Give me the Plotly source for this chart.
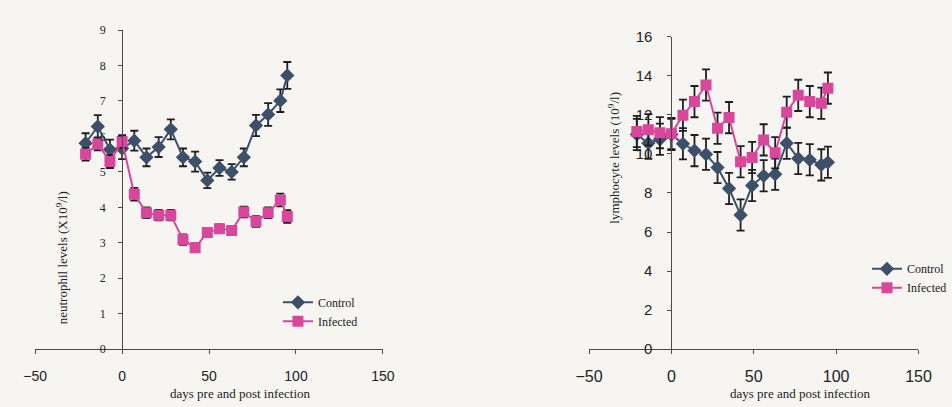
import plotly.graph_objects as go

# Sampling days relative to infection
days = [-21, -14, -7, 0, 7, 14, 21, 28, 35, 42, 49, 56, 63, 70, 77, 84, 91, 95]

# Neutrophil levels (x10^9/l)
neut_control = [5.81, 6.28, 5.63, 5.66, 5.88, 5.41, 5.70, 6.20, 5.41, 5.29, 4.76, 5.11, 5.00, 5.41, 6.31, 6.62, 7.01, 7.72]
neut_control_err = [0.28, 0.32, 0.28, 0.30, 0.28, 0.25, 0.28, 0.28, 0.25, 0.28, 0.22, 0.22, 0.22, 0.25, 0.30, 0.32, 0.32, 0.38]
neut_infected = [5.50, 5.79, 5.29, 5.86, 4.37, 3.85, 3.78, 3.78, 3.09, 2.86, 3.29, 3.40, 3.35, 3.87, 3.60, 3.85, 4.21, 3.74]
neut_infected_err = [0.18, 0.18, 0.18, 0.18, 0.18, 0.15, 0.15, 0.15, 0.15, 0.12, 0.12, 0.12, 0.12, 0.15, 0.15, 0.15, 0.18, 0.18]

# Lymphocyte levels (10^9/l)
lymph_control = [11.00, 10.55, 10.75, 11.00, 10.52, 10.17, 9.98, 9.30, 8.23, 6.87, 8.38, 8.88, 8.96, 10.55, 9.77, 9.70, 9.44, 9.57]
lymph_control_err = [0.8, 0.8, 0.8, 0.8, 0.8, 0.8, 0.8, 0.8, 0.8, 0.8, 0.8, 0.8, 0.8, 0.8, 0.8, 0.8, 0.8, 0.8]
lymph_infected = [11.15, 11.24, 11.09, 11.04, 11.98, 12.68, 13.53, 11.32, 11.86, 9.60, 9.82, 10.72, 10.06, 12.14, 13.00, 12.68, 12.60, 13.37]
lymph_infected_err = [0.8, 0.8, 0.8, 0.8, 0.8, 0.8, 0.8, 0.8, 0.8, 0.8, 0.8, 0.8, 0.8, 0.8, 0.8, 0.8, 0.8, 0.8]

x_ticks = [-50, 0, 50, 100, 150]

CONTROL = "#3e5069"
INFECTED = "#d8479b"
ERR = "#1e1e1e"
BG = "#f7f5f2"
AXIS = "#4a4a4a"
W, H = 952, 407


def series(x, y, err, name, color, symbol, size, xa, ya, legend):
    return go.Scatter(
        x=x, y=y, name=name, mode="lines+markers",
        xaxis=xa, yaxis=ya, legend=legend,
        line=dict(color=color, width=2),
        marker=dict(symbol=symbol, size=size, color=color),
        error_y=dict(type="data", array=err, color=ERR, thickness=1.8, width=4),
    )


fig = go.Figure()
fig.add_trace(series(days, neut_control, neut_control_err, "Control", CONTROL, "diamond", 11, "x", "y", "legend"))
fig.add_trace(series(days, neut_infected, neut_infected_err, "Infected", INFECTED, "square", 11, "x", "y", "legend"))
fig.add_trace(series(days, lymph_control, lymph_control_err, "Control", CONTROL, "diamond", 11, "x2", "y2", "legend2"))
fig.add_trace(series(days, lymph_infected, lymph_infected_err, "Infected", INFECTED, "square", 11, "x2", "y2", "legend2"))

# Panel geometry in pixels
L_x0, L_x1 = 22, 383
L_y0, L_y1 = 355, 22
R_x0, R_x1 = 597, 939
R_y0, R_y1 = 355, 29


def px_x(p):
    return p / W


def px_y(p):
    return 1 - p / H


left_zero = L_x0 + (L_x1 - L_x0) * 50 / 200
right_zero = R_x0 + (R_x1 - R_x0) * 50 / 200

common_x = dict(range=[-50, 150], tickvals=x_ticks, showgrid=False, zeroline=False,
                showline=True, linecolor=AXIS, linewidth=1, ticks="outside",
                ticklen=4, tickcolor=AXIS)
common_y = dict(showgrid=False, zeroline=False, showline=True, linecolor=AXIS,
                linewidth=1, ticks="outside", ticklen=4, tickcolor=AXIS)

fig.update_layout(
    width=W, height=H,
    margin=dict(l=0, r=0, t=0, b=0),
    paper_bgcolor=BG, plot_bgcolor="rgba(0,0,0,0)",
    xaxis=dict(common_x, domain=[px_x(L_x0), px_x(L_x1)], anchor="y",
               tickfont=dict(family="Liberation Sans, Arial", size=14, color="#222"),
               ticklabelstandoff=10),
    yaxis=dict(common_y, domain=[px_y(L_y0), px_y(L_y1)], range=[0, 9], dtick=1,
               anchor="free", position=px_x(left_zero),
               tickfont=dict(family="Liberation Serif, Times New Roman", size=12, color="#222"),
               ticklabelstandoff=10),
    xaxis2=dict(common_x, domain=[px_x(R_x0), px_x(R_x1)], anchor="y2",
                tickfont=dict(family="Liberation Sans, Arial", size=16, color="#222"),
                ticklabelstandoff=9),
    yaxis2=dict(common_y, domain=[px_y(R_y0), px_y(R_y1)], range=[0, 16], dtick=2,
                anchor="free", position=px_x(right_zero),
                tickfont=dict(family="Liberation Sans, Arial", size=15, color="#222"),
                ticklabelstandoff=12),
    legend=dict(x=px_x(274), y=px_y(291), xanchor="left", yanchor="top",
                bgcolor="rgba(0,0,0,0)", tracegroupgap=0, itemwidth=30,
                font=dict(family="Liberation Serif, Times New Roman", size=12, color="#222")),
    legend2=dict(x=px_x(886), y=px_y(256), xanchor="left", yanchor="top",
                 bgcolor="rgba(0,0,0,0)", tracegroupgap=0, itemwidth=30,
                 font=dict(family="Liberation Serif, Times New Roman", size=12, color="#222")),
    showlegend=True,
)

title_font = dict(family="Liberation Serif, Times New Roman", size=13, color="#222")
for text, x, y, angle in [
    ("neutrophil levels (X10<sup>9</sup>/l)", 50, 260, -90),
    ("days pre and post infection", 235, 401, 0),
    ("lymphocyte levels (10<sup>9</sup>/l)", 622, 155, -90),
    ("days pre and post infection", 816, 401, 0),
]:
    fig.add_annotation(text=text, x=px_x(x), y=px_y(y), xref="paper", yref="paper",
                       xanchor="center", yanchor="middle", textangle=angle,
                       showarrow=False, font=title_font)

fig.write_html("out.html")
